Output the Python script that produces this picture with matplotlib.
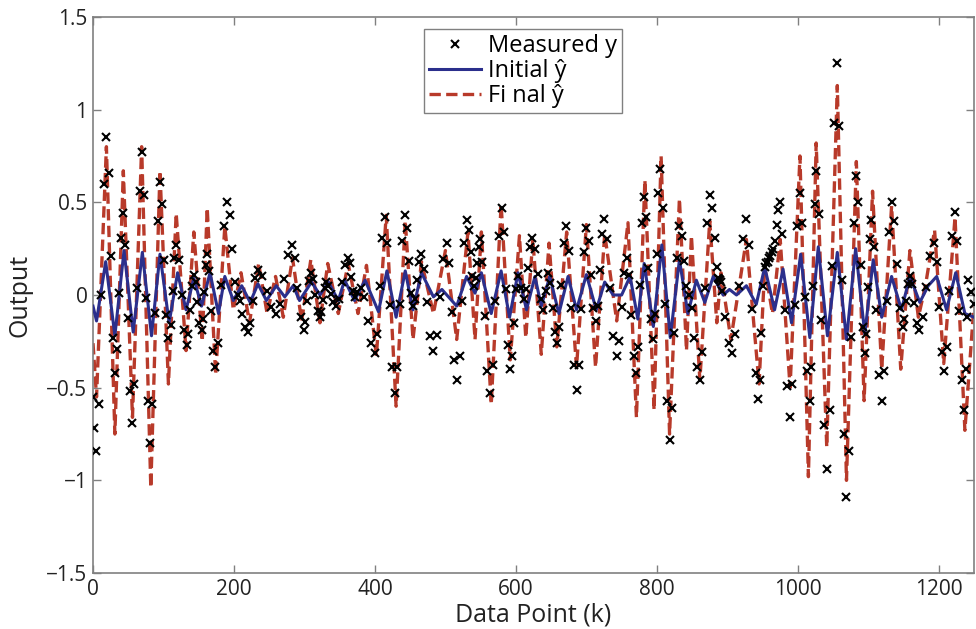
import matplotlib
matplotlib.use('Agg')
import matplotlib.pyplot as plt

# ---- Measured y: turning points ----
meas_k = [0, 4, 19, 31, 43, 55, 69, 81, 95, 107, 118, 133, 143, 154, 162, 173, 190, 205, 220, 234,
          260, 282, 299, 309, 322, 331, 345, 362, 371, 380, 400, 414, 428, 442, 454, 465, 483, 502,
          516, 531, 541, 549, 563, 580, 592, 603, 611, 623, 639, 646, 658, 671, 686, 699, 714, 725,
          743, 757, 770, 782, 795, 805, 818, 832, 846, 861, 875, 889, 906, 927, 944, 953, 965, 975,
          989, 1003, 1017, 1026, 1041, 1056, 1069, 1083, 1095, 1104, 1119, 1133, 1149, 1159, 1172,
          1193, 1208, 1223, 1236, 1242, 1250]
meas_y = [-0.55, -0.84, 0.85, -0.42, 0.44, -0.69, 0.77, -0.80, 0.61, -0.23, 0.27, -0.27, 0.11, -0.19,
          0.22, -0.39, 0.50, 0.00, -0.20, 0.135, -0.10, 0.27, -0.19, 0.12, -0.12, 0.07, -0.06, 0.20,
          -0.01, 0.04, -0.315, 0.42, -0.53, 0.43, -0.06, 0.22, -0.30, 0.28, -0.46, 0.405, 0.05, 0.30,
          -0.53, 0.47, -0.40, 0.10, -0.02, 0.31, -0.08, 0.12, -0.26, 0.37, -0.51, 0.36, -0.14, 0.41,
          -0.33, 0.20, -0.42, 0.53, -0.24, 0.68, -0.78, 0.37, 0.00, -0.46, 0.54, 0.08, -0.315, 0.41,
          -0.56, 0.15, 0.25, 0.50, -0.66, 0.55, -0.57, 0.67, -0.94, 1.25, -1.09, 0.64, -0.315, 0.405,
          -0.57, 0.50, -0.17, 0.10, -0.19, 0.28, -0.41, 0.45, -0.62, 0.08, -0.05]

# ---- Measured y: further samples read along the rising / falling flanks ----
meas_flank = [
    (2, -0.72), (8, -0.59), (12, 0.0), (15, 0.60), (22, 0.66), (25, 0.21), (28, -0.23), (34, -0.29),
    (37, 0.01), (40, 0.31), (46, 0.27), (49, -0.125), (52, -0.52), (58, -0.48), (62, 0.04), (66, 0.56),
    (72, 0.54), (75, -0.015), (78, -0.57), (84, -0.59), (88, -0.095), (92, 0.40), (98, 0.49), (101, 0.19),
    (104, -0.11), (110, -0.16), (113, 0.02), (115, 0.20), (122, 0.19), (126, 0.0), (129, -0.19),
    (135, -0.21), (138, -0.08), (141, 0.05), (146, 0.07), (148, -0.04), (151, -0.15), (156, -0.13),
    (158, 0.015), (160, 0.16), (165, 0.13), (168, -0.085), (170, -0.30), (177, -0.26), (181, 0.055),
    (186, 0.37), (194, 0.43), (197, 0.25), (201, 0.07), (209, -0.03), (212, -0.10), (216, -0.17),
    (223, -0.15), (227, -0.03), (230, 0.09), (240, 0.10), (247, 0.02), (253, -0.065), (265, -0.046),
    (271, 0.085), (277, 0.216), (286, 0.20), (290, 0.04), (295, -0.12), (301, -0.145), (304, -0.035),
    (306, 0.075), (312, 0.085), (315, 0.0), (319, -0.085), (324, -0.09), (326, -0.025), (329, 0.04),
    (334, 0.05), (338, 0.005), (341, -0.04), (349, -0.02), (353, 0.07), (358, 0.16), (364, 0.17),
    (366, 0.095), (369, 0.02), (375, 0.015), (385, -0.01), (390, -0.14), (395, -0.26), (403, -0.21),
    (407, 0.05), (410, 0.31), (417, 0.28), (421, -0.055), (424, -0.39), (431, -0.39), (435, -0.05),
    (438, 0.29), (445, 0.36), (448, 0.185), (451, 0.01), (457, -0.02), (459, 0.08), (462, 0.18),
    (469, 0.14), (474, -0.04), (478, -0.22), (488, -0.215), (492, -0.01), (497, 0.195), (505, 0.17),
    (509, -0.09), (512, -0.35), (520, -0.33), (523, -0.03), (527, 0.28), (533, 0.35), (536, 0.23),
    (538, 0.10), (543, 0.09), (545, 0.175), (547, 0.26), (552, 0.18), (556, -0.115), (559, -0.41),
    (567, -0.38), (571, -0.03), (576, 0.32), (583, 0.34), (586, 0.035), (589, -0.27), (595, -0.33),
    (597, -0.15), (600, 0.03), (607, 0.04), (614, 0.03), (617, 0.145), (620, 0.26), (627, 0.25),
    (631, 0.115), (635, -0.02), (642, 0.02), (649, 0.065), (652, -0.07), (655, -0.20), (661, -0.17),
    (664, 0.055), (668, 0.28), (675, 0.24), (678, -0.07), (682, -0.38), (689, -0.38), (692, -0.075),
    (696, 0.23), (703, 0.29), (706, 0.11), (710, -0.07), (717, -0.06), (719, 0.135), (722, 0.33),
    (729, 0.30), (734, 0.04), (738, -0.22), (746, -0.25), (750, -0.065), (753, 0.12), (760, 0.11),
    (763, -0.11), (767, -0.33), (773, -0.28), (776, 0.055), (779, 0.39), (785, 0.42), (788, 0.145),
    (792, -0.13), (797, -0.105), (800, 0.22), (802, 0.55), (808, 0.47), (811, -0.05), (815, -0.57),
    (821, -0.61), (825, -0.205), (828, 0.20), (835, 0.32), (839, 0.185), (842, 0.05), (850, -0.07),
    (853, -0.23), (857, -0.39), (864, -0.31), (868, 0.04), (871, 0.39), (878, 0.47), (882, 0.31),
    (885, 0.15), (887, 0.09), (888, 0.085), (891, 0.07), (893, 0.02), (897, -0.12), (902, -0.26),
    (911, -0.21), (916, 0.05), (922, 0.30), (931, 0.27), (935, -0.075), (940, -0.42), (946, -0.46),
    (948, -0.205), (951, 0.05), (955, 0.17), (957, 0.18), (959, 0.20), (961, 0.21), (963, 0.23),
    (967, 0.29), (970, 0.375), (972, 0.46), (978, 0.33), (982, -0.08), (985, -0.49), (992, -0.48),
    (996, -0.055), (999, 0.37), (1006, 0.39), (1010, -0.01), (1013, -0.41), (1019, -0.39), (1021, 0.05),
    (1024, 0.49), (1030, 0.435), (1033, -0.135), (1037, -0.70), (1045, -0.62), (1048, 0.155),
    (1052, 0.93), (1059, 0.91), (1062, 0.08), (1066, -0.75), (1072, -0.84), (1076, -0.225), (1079, 0.39),
    (1086, 0.50), (1089, 0.16), (1092, -0.175), (1097, -0.21), (1099, 0.045), (1102, 0.30), (1108, 0.26),
    (1111, -0.08), (1115, -0.43), (1122, -0.41), (1126, -0.035), (1129, 0.34), (1137, 0.40),
    (1141, 0.165), (1145, -0.07), (1151, -0.13), (1154, -0.035), (1156, 0.06), (1162, 0.06),
    (1165, -0.045), (1169, -0.15), (1177, -0.12), (1182, 0.045), (1188, 0.21), (1197, 0.18),
    (1200, -0.065), (1204, -0.31), (1212, -0.28), (1215, 0.02), (1219, 0.32), (1226, 0.29),
    (1229, -0.085), (1233, -0.46), (1238, -0.40), (1240, -0.12), (1246, 0.015)]

# ---- Initial y-hat: turning points ----
init_k = [0, 5, 18, 31, 44, 57, 70, 83, 95, 108, 120, 132, 143, 154, 166, 178, 187, 199, 211, 223,
          234, 246, 260, 272, 284, 293, 310, 322, 334, 348, 357, 371, 386, 405, 417, 430, 443, 454,
          466, 483, 495, 516, 530, 542, 551, 565, 579, 591, 603, 615, 627, 636, 648, 661, 674, 686,
          700, 714, 726, 738, 750, 762, 773, 782, 795, 807, 819, 832, 844, 856, 868, 880, 894, 903,
          913, 927, 941, 953, 967, 979, 991, 1004, 1017, 1029, 1042, 1056, 1069, 1082, 1095, 1107,
          1119, 1133, 1147, 1159, 1173, 1185, 1197, 1211, 1224, 1237, 1250]
init_y = [-0.06, -0.14, 0.18, -0.22, 0.24, -0.20, 0.23, -0.22, 0.22, -0.15, 0.12, -0.08, 0.09, -0.06,
          0.12, -0.10, 0.10, -0.03, 0.05, -0.04, 0.06, -0.03, 0.05, -0.01, 0.05, -0.03, 0.07, 0.00,
          0.07, -0.03, 0.08, -0.03, 0.08, -0.09, 0.13, -0.12, 0.13, -0.08, 0.12, -0.01, 0.03, -0.06,
          0.10, 0.01, 0.12, -0.10, 0.13, -0.12, 0.12, -0.08, 0.10, -0.06, 0.10, -0.10, 0.10, -0.08,
          0.11, -0.08, 0.07, 0.00, 0.00, 0.10, -0.13, 0.17, -0.17, 0.27, -0.23, 0.19, -0.10, 0.08,
          -0.04, 0.10, 0.00, 0.03, 0.00, 0.05, -0.05, 0.15, -0.08, 0.14, -0.15, 0.22, -0.23, 0.26,
          -0.22, 0.23, -0.24, 0.25, -0.21, 0.19, -0.12, 0.10, -0.08, 0.10, -0.04, 0.05, 0.10, -0.08,
          0.12, -0.10, -0.12]

# ---- Final y-hat: turning points ----
final_k = [0, 5, 19, 31, 43, 56, 69, 82, 95, 107, 118, 132, 143, 155, 162, 174, 187, 199, 210, 222,
           235, 247, 259, 270, 283, 296, 309, 322, 333, 348, 362, 376, 388, 402, 416, 430, 443, 454,
           466, 483, 500, 516, 532, 542, 551, 565, 579, 592, 605, 614, 624, 636, 647, 658, 672, 686,
           700, 713, 726, 743, 759, 771, 783, 796, 806, 818, 832, 842, 849, 861, 875, 885, 891, 905,
           927, 945, 953, 964, 975, 989, 1003, 1015, 1026, 1041, 1056, 1069, 1083, 1094, 1106, 1119,
           1133, 1146, 1159, 1171, 1181, 1194, 1207, 1223, 1237, 1250]
final_y = [-0.26, -0.55, 0.80, -0.75, 0.67, -0.66, 0.80, -1.04, 0.67, -0.48, 0.44, -0.30, 0.34, -0.25,
           0.47, -0.43, 0.37, -0.08, 0.12, -0.15, 0.17, -0.10, 0.10, -0.12, 0.20, -0.14, 0.19, -0.15,
           0.17, -0.10, 0.17, -0.10, 0.16, -0.33, 0.43, -0.60, 0.40, -0.24, 0.18, -0.10, 0.24, -0.24,
           0.34, -0.24, 0.34, -0.59, 0.49, -0.35, 0.32, -0.23, 0.30, -0.32, 0.28, -0.28, 0.34, -0.39,
           0.38, -0.39, 0.33, -0.14, 0.39, -0.66, 0.62, -0.62, 0.75, -0.75, 0.52, -0.30, 0.32, -0.46,
           0.40, -0.15, 0.12, -0.24, 0.30, -0.48, 0.15, -0.10, 0.30, -0.50, 0.75, -0.98, 0.82, -0.82,
           1.13, -1.00, 0.72, -0.57, 0.56, -0.40, 0.48, -0.40, 0.24, -0.12, 0.05, 0.35, -0.37, 0.42,
           -0.73, -0.05]

x_ticks = [0, 200, 400, 600, 800, 1000, 1200]
y_ticks = [-1.5, -1, -0.5, 0, 0.5, 1, 1.5]
y_tick_labels = ['\u22121.5', '\u22121', '\u22120.5', '0', '0.5', '1', '1.5']

plt.rcParams['font.family'] = ['Open Sans', 'DejaVu Sans']

fig = plt.figure(figsize=(9.76, 6.29), dpi=100)
ax = fig.add_axes([0.0953, 0.089, 0.9027, 0.884])

red, = ax.plot(final_k, final_y, linestyle='--', color='#b83a2a', lw=2.4, dashes=(3.4, 1.6),
               label='Fi nal \u0177', zorder=2)
blue, = ax.plot(init_k, init_y, '-', color='#2b2f8c', lw=2.2, label='Initial \u0177', zorder=3)
flank_k = [p[0] for p in meas_flank]
flank_y = [p[1] for p in meas_flank]
mk = dict(linestyle='none', marker='x', color='black', ms=6, mew=1.5, zorder=4)
meas, = ax.plot(meas_k, meas_y, label='Measured y', **mk)
ax.plot(flank_k, flank_y, **mk)

ax.set_xlim(0, 1250)
ax.set_ylim(-1.5, 1.5)
ax.set_xticks(x_ticks)
ax.set_yticks(y_ticks)
ax.set_yticklabels(y_tick_labels)
ax.tick_params(direction='in', top=True, right=True, length=6, width=1, color='#808080',
               labelsize=15, labelcolor='#222222', pad=4)
for s in ax.spines.values():
    s.set_color('#808080')
    s.set_linewidth(1.2)

ax.set_xlabel('Data Point (k)', fontsize=18, color='#222222', labelpad=2)
ax.set_ylabel('Output', fontsize=18, color='#222222', labelpad=10)

leg = ax.legend(handles=[meas, blue, red], loc='upper center', bbox_to_anchor=(0.488, 0.978),
                fontsize=17, frameon=True, fancybox=False, edgecolor='#606060',
                borderpad=0.2, labelspacing=0.05, handlelength=2.2, handletextpad=0.3,
                borderaxespad=0)
leg.get_frame().set_linewidth(1.0)

fig.savefig('out.png', dpi=100)
